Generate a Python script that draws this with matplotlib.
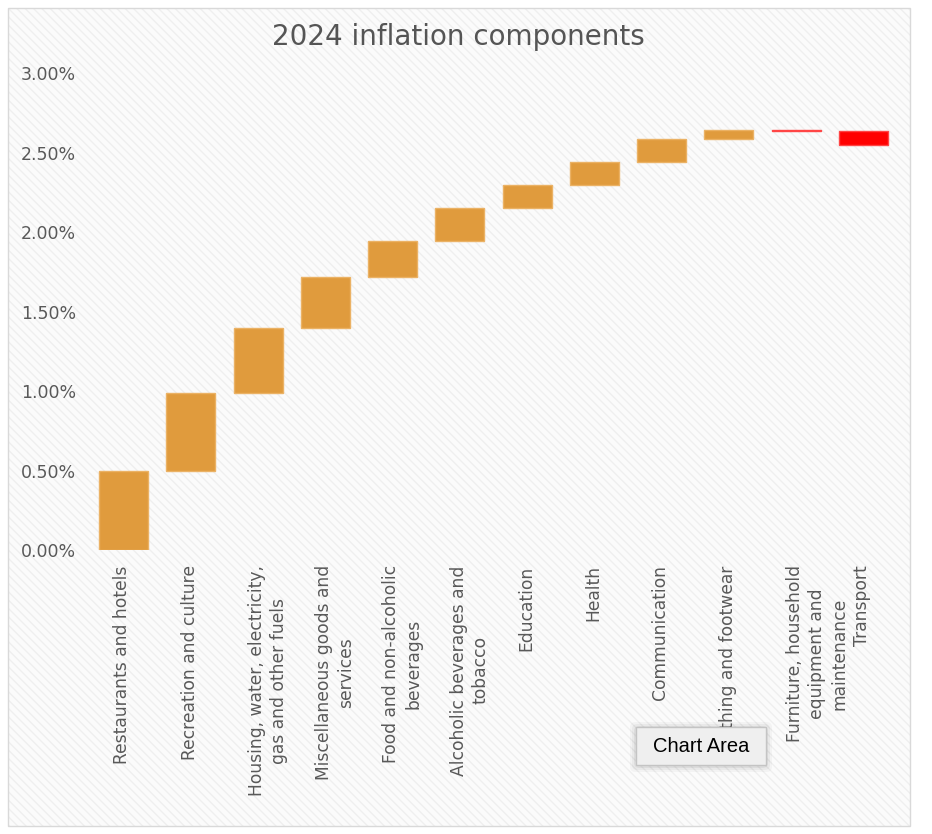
import matplotlib
matplotlib.use("Agg")
import matplotlib.pyplot as plt
from matplotlib.patches import Rectangle, FancyBboxPatch
from matplotlib.ticker import FuncFormatter
from matplotlib.transforms import ScaledTranslation
import numpy as np

plt.rcParams["font.family"] = ["DejaVu Sans"]

# ---- data ----
categories = [
    "Restaurants and hotels",
    "Recreation and culture",
    "Housing, water, electricity,\ngas and other fuels",
    "Miscellaneous goods and\nservices",
    "Food and non-alcoholic\nbeverages",
    "Alcoholic beverages and\ntobacco",
    "Education",
    "Health",
    "Communication",
    "Clothing and footwear",
    "Furniture, household\nequipment and\nmaintenance",
    "Transport",
]
contributions = [0.50, 0.485, 0.41, 0.325, 0.225, 0.205, 0.145, 0.145, 0.145, 0.06, -0.01, -0.085]
y_ticks = [0.0, 0.5, 1.0, 1.5, 2.0, 2.5, 3.0]
title = "2024 inflation components"

W, H = 932, 834
fig = plt.figure(figsize=(W / 100, H / 100), dpi=100)
fig.patch.set_facecolor("white")

# chart area background with subtle diagonal hatch
plt.rcParams["hatch.linewidth"] = 1.0
bg = Rectangle((8 / W, 1 - 826 / H), (910 - 8) / W, (826 - 8) / H,
               transform=fig.transFigure, facecolor="#fbfbfb", edgecolor="#efefef",
               hatch="\\\\\\\\", linewidth=0, zorder=0)
fig.patches.append(bg)
border = Rectangle((8 / W, 1 - 826 / H), (910 - 8) / W, (826 - 8) / H,
                   transform=fig.transFigure, facecolor="none", edgecolor="#d9d9d9",
                   linewidth=1.0, zorder=1)
fig.patches.append(border)

ax = fig.add_axes([90 / W, 1 - 550 / H, (897 - 90) / W, (550 - 73.3) / H])
ax.set_facecolor("none")
ax.set_zorder(3)

x = np.arange(len(categories))
vals = np.array(contributions)
ends = np.cumsum(vals)
starts = ends - vals
bottoms = np.minimum(starts, ends)
heights = np.abs(vals)
colors = ["#E09B3D" if v >= 0 else "#FF0000" for v in vals]
edges = ["#EBB265" if v >= 0 else "#FF4545" for v in vals]
ax.bar(x, heights, bottom=bottoms, width=0.73, color=colors, edgecolor=edges, linewidth=1.0, zorder=3)

ax.set_xlim(-0.5, len(categories) - 0.5)
ax.set_ylim(0, 3.0)
ax.set_yticks(y_ticks)
ax.yaxis.set_major_formatter(FuncFormatter(lambda v, p: f"{v:.2f}%"))
ax.set_xticks(x)
ax.set_xticklabels(categories, rotation=90, ha="left", va="top", multialignment="center",
                   linespacing=1.3)
ax.tick_params(axis="x", length=0, pad=11, labelsize=12.3, labelcolor="#595959")
ax.tick_params(axis="y", length=0, pad=10, labelsize=12.5, labelcolor="#595959")
# first line of each label sits centred on its tick, extra lines run to the right
shift = ScaledTranslation(-7.3 / 72, 0, fig.dpi_scale_trans)
for lab in ax.get_xticklabels():
    lab.set_transform(lab.get_transform() + shift)
for s in ax.spines.values():
    s.set_visible(False)

fig.text(458 / W, 1 - 37 / H, title, ha="center", va="center", fontsize=20,
         color="#555555", fontweight="normal", zorder=4)

# tooltip overlay seen in the reference
for i, a in enumerate([0.05, 0.04, 0.03]):
    sh = FancyBboxPatch(((636 - 2 - i * 2) / W, 1 - (765 + 3 + i * 2) / H),
                        (130 + 4 + i * 4) / W, (38 + 4 + i * 4) / H,
                        boxstyle="round,pad=0,rounding_size=0.006", transform=fig.transFigure,
                        facecolor="black", edgecolor="none", alpha=a, zorder=5)
    fig.patches.append(sh)
tip = Rectangle((636 / W, 1 - 765 / H), 130 / W, 38 / H, transform=fig.transFigure,
                facecolor="#efefef", edgecolor="#c4c4c4", linewidth=1.0, zorder=6)
fig.patches.append(tip)
fig.text(701 / W, 1 - 746 / H, "Chart Area", ha="center", va="center", fontsize=14.5,
         color="black", family="Liberation Sans", zorder=7)

fig.savefig("out.png", dpi=100)
